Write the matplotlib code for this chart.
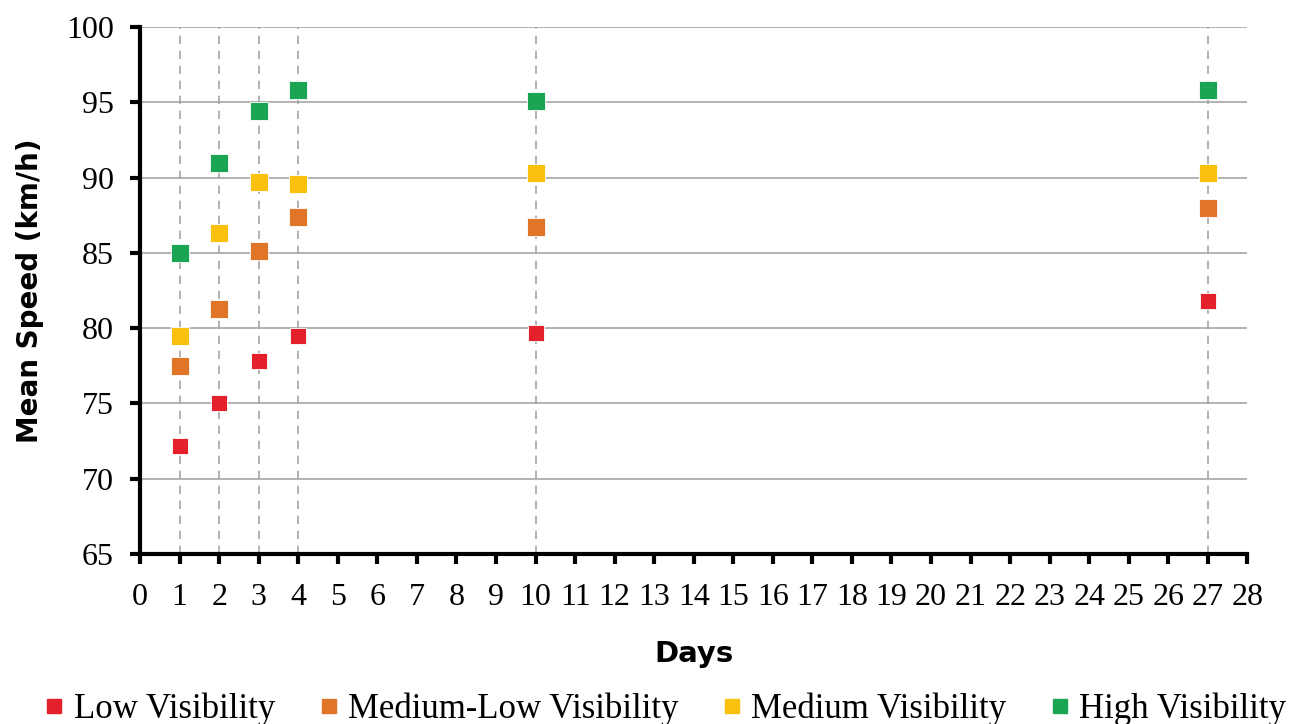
import matplotlib.pyplot as plt
from matplotlib.lines import Line2D

days = [1, 2, 3, 4, 10, 27]
low = [72.2, 75.0, 77.8, 79.5, 79.7, 81.8]
med_low = [77.5, 81.3, 85.1, 87.4, 86.7, 88.0]
medium = [79.5, 86.3, 89.7, 89.6, 90.3, 90.3]
high = [85.0, 91.0, 94.4, 95.8, 95.1, 95.8]
labels = ['Low Visibility', 'Medium-Low Visibility', 'Medium Visibility', 'High Visibility']
colors = ['#E3202B', '#E07528', '#F9C00D', '#1AA552']

serif = 'Liberation Serif'
bold_font = dict(family=['DejaVu Sans'], weight='bold')

fig = plt.figure(figsize=(12.99, 7.24), dpi=100)
ax = fig.add_axes([0.1078, 0.2348, 0.8525, 0.7279])

# grid: horizontal solid, vertical dashed only at measured days
for y in range(70, 101, 5):
    ax.axhline(y, color='#A6A6A6', lw=1.2, zorder=1)
for d in days:
    ax.axvline(d, color='#A6A6A6', lw=1.2, ls=(0, (5, 4)), zorder=1)

series = [low, med_low, medium, high]
sizes = [11, 13.5, 13.5, 13.5]
for vals, c, s in zip(series, colors, sizes):
    ax.plot(days, vals, ls='none', marker='s', ms=s, color=c, mec='white', mew=0.6, zorder=3)

ax.set_xlim(0, 28)
ax.set_ylim(65, 100)
ax.set_xticks(range(0, 29))
ax.set_yticks(range(65, 101, 5))
for s in ['top', 'right']:
    ax.spines[s].set_visible(False)
for s in ['left', 'bottom']:
    ax.spines[s].set_linewidth(3)
ax.tick_params(axis='both', width=3, length=7, direction='out', labelsize=23)
ax.tick_params(axis='y', pad=12)
ax.tick_params(axis='x', pad=14)
for t in ax.get_xticklabels() + ax.get_yticklabels():
    t.set_family(serif)

ax.set_ylabel('Mean Speed (km/h)', fontsize=20, labelpad=16, **bold_font)
ax.set_xlabel('Days', fontsize=21, labelpad=20, **bold_font)

handles = [Line2D([], [], ls='none', marker='s', ms=10, color=c) for c in colors]
fig.legend(handles, labels, loc='lower center', bbox_to_anchor=(0.51, -0.046), ncol=4,
           frameon=False, prop={'family': serif, 'size': 25}, handletextpad=0.1,
           columnspacing=1.1, handlelength=0.9)

fig.savefig('out.png', dpi=100)
